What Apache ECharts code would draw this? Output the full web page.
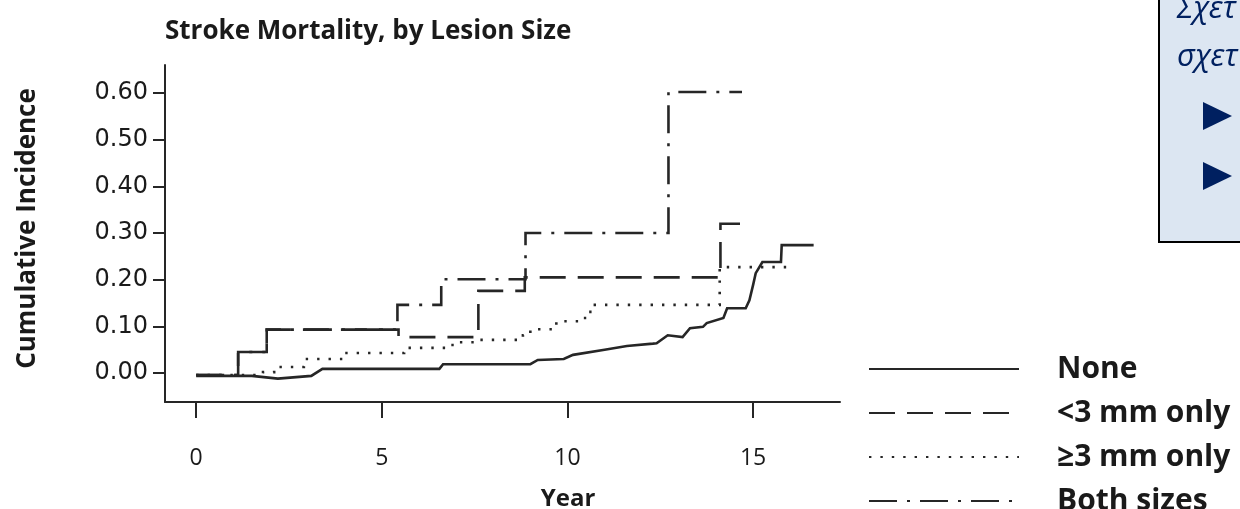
<!DOCTYPE html>
<html>
<head>
<meta charset="utf-8">
<script src="https://cdn.jsdelivr.net/npm/echarts@6/dist/echarts.min.js"></script>
<style>
html,body{margin:0;padding:0;background:#fff;}
#chart{width:1240px;height:509px;}
</style>
</head>
<body>
<div id="chart"></div>
<script>
// ---- data ----
const titleText = 'Stroke Mortality, by Lesion Size';
const seriesNames = ['None', '<3 mm only', '\u22653 mm only', 'Both sizes'];
const xTicks = [0, 5, 10, 15];
const yTicks = [0, 0.1, 0.2, 0.3, 0.4, 0.5, 0.6];

// None (solid) – vertices of the drawn curve [year, incidence]
const noneData = [
  [0, -0.006], [1.5, -0.006], [2.2, -0.012], [3.1, -0.006], [3.4, 0.009],
  [6.55, 0.009], [6.65, 0.019], [9.0, 0.019], [9.2, 0.028], [9.9, 0.030],
  [10.15, 0.039], [11.0, 0.050], [11.6, 0.058], [12.3, 0.063], [12.4, 0.064],
  [12.7, 0.081], [13.1, 0.077], [13.3, 0.096], [13.65, 0.099], [13.75, 0.107],
  [14.2, 0.118], [14.3, 0.139], [14.8, 0.139], [14.9, 0.156], [15.0, 0.189],
  [15.07, 0.214], [15.25, 0.238], [15.75, 0.238], [15.77, 0.274], [16.63, 0.274]
];
// <3 mm only (dashed) – step points
const smallData = [
  [0, -0.004], [1.13, 0.045], [1.9, 0.093], [5.45, 0.077], [7.6, 0.176],
  [8.85, 0.205], [14.12, 0.32], [14.95, 0.32]
];
// >=3 mm only (dotted) – step points
const largeData = [
  [0, -0.004], [1.8, 0.002], [2.1, 0.013], [2.9, 0.030], [4.0, 0.043],
  [5.6, 0.054], [6.85, 0.060], [7.1, 0.066], [7.65, 0.071], [8.8, 0.081],
  [9.0, 0.094], [9.7, 0.111], [10.3, 0.118], [10.55, 0.131], [10.65, 0.146],
  [14.1, 0.227], [16.0, 0.227]
];
// Both sizes (dash-dot) – step points
const bothData = [
  [0, -0.004], [1.13, 0.045], [1.9, 0.093], [5.42, 0.146], [6.6, 0.201],
  [8.87, 0.30], [12.72, 0.602], [14.7, 0.602]
];
// Greek side box text fragments (clipped by the picture edge)
const boxLines = ['\u03A3\u03C7\u03B5\u03C4', '\u03C3\u03C7\u03B5\u03C4'];

const chart = echarts.init(document.getElementById('chart'), null, {renderer: 'canvas'});
const ink = '#262626';
const lw = 2.6;

function lineSeries(name, data, type, step) {
  return {
    name: name, type: 'line', data: data, step: step,
    symbol: 'none', showSymbol: false, silent: true, animation: false,
    lineStyle: {color: ink, width: lw, type: type, cap: 'butt', join: 'miter'},
    itemStyle: {color: ink}
  };
}

chart.setOption({
  animation: false,
  backgroundColor: '#fff',
  title: {
    text: titleText, left: 160, top: 14,
    textStyle: {fontFamily: 'Open Sans', fontWeight: 'bold', fontSize: 26, color: '#1a1a1a'}
  },
  grid: {left: 165, top: 65, right: 400, bottom: 107, containLabel: false, outerBoundsMode: 'none'},
  xAxis: {
    type: 'value', min: -0.84, max: 17.34,
    name: 'Year', nameLocation: 'middle', nameGap: 85,
    nameTextStyle: {fontFamily: 'Open Sans', fontWeight: 'bold', fontSize: 24, color: '#1a1a1a', padding: [0, 0, 0, 131]},
    axisLine: {onZero: false, lineStyle: {color: ink, width: 2}},
    axisTick: {show: true, customValues: xTicks, length: 16, lineStyle: {color: ink, width: 2}},
    axisLabel: {customValues: xTicks, margin: 45, fontFamily: 'Open Sans', fontSize: 23, color: '#1a1a1a'},
    splitLine: {show: false}
  },
  yAxis: {
    type: 'value', min: -0.062, max: 0.66,
    name: 'Cumulative Incidence', nameLocation: 'middle', nameGap: 124, nameRotate: 90,
    nameTextStyle: {fontFamily: 'Open Sans', fontWeight: 'bold', fontSize: 26, color: '#1a1a1a', padding: [0, 0, 0, 10]},
    axisLine: {onZero: false, lineStyle: {color: ink, width: 2}},
    axisTick: {show: true, customValues: yTicks, length: 12, lineStyle: {color: ink, width: 2}},
    axisLabel: {customValues: yTicks, margin: 17, fontFamily: 'DejaVu Sans', fontSize: 24, color: '#1a1a1a',
      formatter: v => v.toFixed(2)},
    splitLine: {show: false}
  },
  legend: {
    orient: 'vertical', left: 868, top: 354, height: 200, padding: 0,
    itemWidth: 150, itemHeight: 14, itemGap: 14,
    selectedMode: false,
    itemStyle: {opacity: 0},
    data: seriesNames,
    textStyle: {fontFamily: 'Open Sans', fontWeight: 'bold', fontSize: 30, lineHeight: 28, color: '#1a1a1a', padding: [0, 0, 0, 33]}
  },
  series: [
    lineSeries(seriesNames[0], noneData, 'solid', false),
    lineSeries(seriesNames[1], smallData, [26, 12], 'end'),
    lineSeries(seriesNames[2], largeData, [2.4, 9], 'end'),
    lineSeries(seriesNames[3], bothData, [28, 10, 3, 10], 'end')
  ],
  graphic: [
    {type: 'rect', left: 1158, top: -4, z: 10,
      shape: {width: 100, height: 245},
      style: {fill: '#dce6f2', stroke: '#000', lineWidth: 2}},
    {type: 'text', left: 1177, top: -6, z: 11,
      style: {text: boxLines[0], fill: '#002060', font: 'italic 31px "Open Sans"'}},
    {type: 'text', left: 1177, top: 42, z: 11,
      style: {text: boxLines[1], fill: '#002060', font: 'italic 31px "Open Sans"'}},
    {type: 'polygon', z: 11, shape: {points: [[1203, 102], [1232, 116], [1203, 130]]}, style: {fill: '#002060'}},
    {type: 'polygon', z: 11, shape: {points: [[1203, 162], [1232, 176], [1203, 190]]}, style: {fill: '#002060'}}
  ]
});
</script>
</body>
</html>
